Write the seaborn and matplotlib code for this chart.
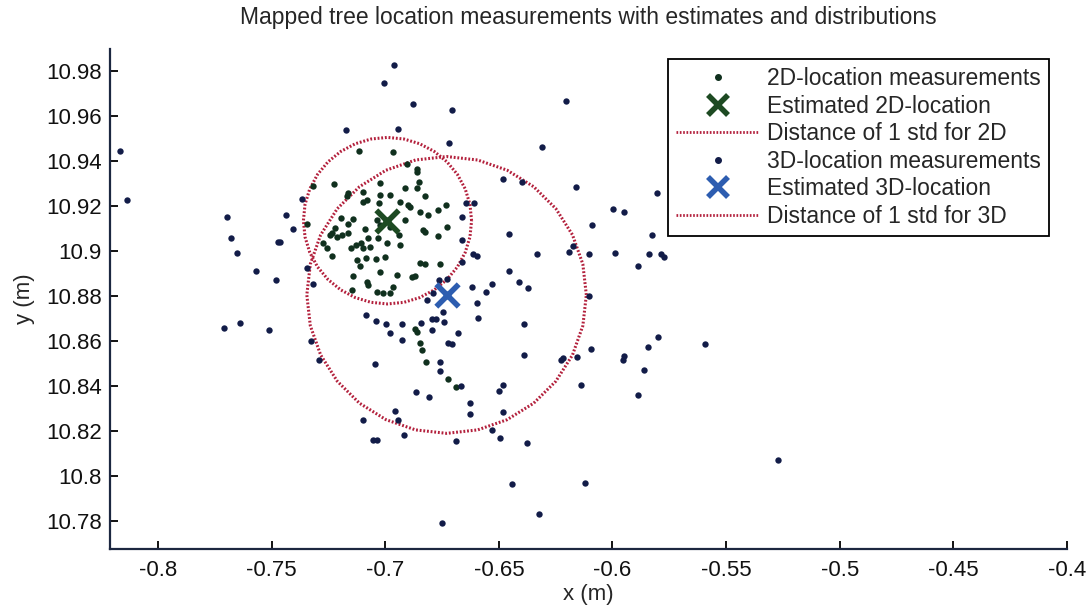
import numpy as np
import matplotlib
matplotlib.use("Agg")
import matplotlib.pyplot as plt
import seaborn as sns
from matplotlib.lines import Line2D

x_2d = [-0.7317, -0.7226, -0.7342, -0.7164, -0.7115, -0.6964, -0.6906, -0.6859, -0.6862,
        -0.7170, -0.7096, -0.7023, -0.6979, -0.7023, -0.6913, -0.6862, -0.6850, -0.6825,
        -0.7096, -0.7079, -0.7027, -0.6935, -0.6891, -0.6847, -0.6810, -0.6769, -0.6734,
        -0.7275, -0.7258, -0.7236, -0.7221, -0.7195, -0.7162, -0.7143, -0.7243, -0.7214,
        -0.7192, -0.7162, -0.7089, -0.7038, -0.7023, -0.6979, -0.6913, -0.6898, -0.6832,
        -0.6825, -0.6766, -0.6730,
        -0.7151, -0.7129, -0.7107, -0.7074, -0.7067, -0.7096, -0.7033, -0.6994, -0.6935, -0.6938,
        -0.7234, -0.7126, -0.7085, -0.7042, -0.7001, -0.7111, -0.6847, -0.6825, -0.6759,
        -0.7140, -0.7023, -0.6950, -0.6884, -0.6869, -0.7082, -0.7074, -0.6964, -0.7038,
        -0.7008, -0.6979, -0.7148,
        -0.6869, -0.6862, -0.6847, -0.6840, -0.6821, -0.6722, -0.6689]
y_2d = [10.9290, 10.9296, 10.9120, 10.9260, 10.9444, 10.9441, 10.9389, 10.9363, 10.9353,
        10.9244, 10.9264, 10.9301, 10.9249, 10.9249, 10.9278, 10.9278, 10.9308, 10.9244,
        10.9219, 10.9227, 10.9212, 10.9219, 10.9194, 10.9175, 10.9160, 10.9182, 10.9204,
        10.9037, 10.9012, 10.9079, 10.9101, 10.9145, 10.9120, 10.9141, 10.9071, 10.9064,
        10.9071, 10.9079, 10.9096, 10.9138, 10.9116, 10.9108, 10.9138, 10.9204, 10.9093,
        10.9086, 10.9067, 10.9105,
        10.9015, 10.9027, 10.9034, 10.9056, 10.9019, 10.9012, 10.9056, 10.9037, 10.9027, 10.9071,
        10.8978, 10.8960, 10.8967, 10.8963, 10.8975, 10.8933, 10.8948, 10.8942, 10.8941,
        10.8889, 10.8908, 10.8893, 10.8886, 10.8889, 10.8864, 10.8849, 10.8841, 10.8819,
        10.8812, 10.8812, 10.8827,
        10.8652, 10.8641, 10.8590, 10.8560, 10.8508, 10.8430, 10.8397]

x_3d = [-0.8167, -0.8138, -0.7174, -0.7368, -0.7696, -0.7679, -0.7438, -0.7405,
        -0.6942, -0.6718, -0.6661, -0.6645, -0.6608, -0.6661, -0.6664, -0.6615, -0.6598,
        -0.7346, -0.7316, -0.6818, -0.6788, -0.6762, -0.6730, -0.6620, -0.6598, -0.7463,
        -0.6532, -0.6557, -0.6411, -0.6370, -0.6593, -0.6389, -0.6389, -0.6747, -0.6740,
        -0.6681, -0.6793, -0.6778, -0.6844, -0.6796, -0.6928, -0.6928, -0.6979, -0.6997,
        -0.7041, -0.7086, -0.6725, -0.6708, -0.6759, -0.6759, -0.6668,
        -0.7328, -0.7290, -0.7047, -0.6865, -0.6807, -0.6627, -0.6627, -0.6498, -0.6480,
        -0.6480, -0.6532, -0.6495, -0.6375, -0.6689, -0.6957, -0.6945, -0.7096, -0.7053,
        -0.7038, -0.6918, -0.6441, -0.6323, -0.6752,
        -0.6206, -0.6312, -0.6483, -0.6398, -0.6159, -0.5803, -0.5996, -0.5949, -0.6092,
        -0.6454, -0.5828, -0.6175, -0.6191, -0.6334, -0.6105, -0.5988, -0.5839, -0.5788,
        -0.5774, -0.5889, -0.6454, -0.6102, -0.5798, -0.5593, -0.5845, -0.6093, -0.6155,
        -0.6226, -0.6219, -0.5949, -0.5955, -0.5860, -0.6140, -0.5889,
        -0.6962, -0.7006, -0.6878, -0.6706,
        -0.7710, -0.7640, -0.7510, -0.7650, -0.7570, -0.7480, -0.7470,
        -0.5270, -0.6120]
y_3d = [10.9444, 10.9227, 10.9540, 10.9230, 10.9150, 10.9060, 10.9160, 10.9100,
        10.9541, 10.9481, 10.9153, 10.9212, 10.9215, 10.9049, 10.8953, 10.8987, 10.8979,
        10.8923, 10.8852, 10.8782, 10.8815, 10.8871, 10.8874, 10.8841, 10.8767, 10.9041,
        10.8853, 10.8816, 10.8861, 10.8838, 10.8704, 10.8676, 10.8538, 10.8730, 10.8686,
        10.8638, 10.8696, 10.8698, 10.8682, 10.8649, 10.8604, 10.8676, 10.8638, 10.8676,
        10.8690, 10.8716, 10.8593, 10.8585, 10.8508, 10.8467, 10.8400,
        10.8600, 10.8516, 10.8496, 10.8375, 10.8353, 10.8323, 10.8278, 10.8378, 10.8405,
        10.8283, 10.8204, 10.8170, 10.8148, 10.8155, 10.8289, 10.8249, 10.8249, 10.8160,
        10.8160, 10.8181, 10.7965, 10.7830, 10.7790,
        10.9667, 10.9464, 10.9320, 10.9305, 10.9283, 10.9259, 10.9185, 10.9172, 10.9118,
        10.9078, 10.9072, 10.9024, 10.8997, 10.8987, 10.8987, 10.8991, 10.8989, 10.8985,
        10.8975, 10.8935, 10.8911, 10.8801, 10.8619, 10.8585, 10.8572, 10.8567, 10.8530,
        10.8516, 10.8523, 10.8533, 10.8516, 10.8471, 10.8404, 10.8360,
        10.9827, 10.9747, 10.9653, 10.9627,
        10.8660, 10.8680, 10.8650, 10.8990, 10.8910, 10.8870, 10.9040,
        10.8070, 10.7970]

# estimates and 1-std radii
est_2d = (-0.6990, 10.9135)
est_3d = (-0.6730, 10.8805)
std_2d = 0.0370
std_3d = 0.0615

xticks = [-0.8, -0.75, -0.7, -0.65, -0.6, -0.55, -0.5, -0.45, -0.4]
xticklabels = ["-0.8", "-0.75", "-0.7", "-0.65", "-0.6", "-0.55", "-0.5", "-0.45", "-0.4"]
yticks = [10.78, 10.8, 10.82, 10.84, 10.86, 10.88, 10.9, 10.92, 10.94, 10.96, 10.98]
yticklabels = ["10.78", "10.8", "10.82", "10.84", "10.86", "10.88", "10.9", "10.92",
               "10.94", "10.96", "10.98"]

c_dot2d = "#10301e"
c_dot3d = "#121c48"
c_x2d = "#1d4a22"
c_x3d = "#2d5db0"
c_circ = "#b3203c"
c_axis = "#1c2740"

sns.set_theme(style="white")
plt.rcParams["font.family"] = ["Liberation Sans", "DejaVu Sans"]

fig = plt.figure(figsize=(10.87, 6.12), dpi=100)
ax = fig.add_axes([0.1012, 0.1029, 0.8804, 0.8171])

sns.scatterplot(x=x_2d, y=y_2d, ax=ax, color=c_dot2d, s=21, linewidth=0, zorder=3)
sns.scatterplot(x=x_3d, y=y_3d, ax=ax, color=c_dot3d, s=21, linewidth=0, zorder=3)

ang = np.linspace(0, 2 * np.pi, 33)
ax.plot(est_2d[0] + std_2d * np.cos(ang), est_2d[1] + std_2d * np.sin(ang),
        color=c_circ, lw=2.2, ls=(0, (0.6, 0.6)), zorder=2)
ang = np.linspace(0, 2 * np.pi, 29)
ax.plot(est_3d[0] + std_3d * np.cos(ang), est_3d[1] + std_3d * np.sin(ang),
        color=c_circ, lw=2.2, ls=(0, (0.6, 0.6)), zorder=2)

ax.scatter([est_2d[0]], [est_2d[1]], marker="x", s=260, linewidths=4, color=c_x2d, zorder=4)
ax.scatter([est_3d[0]], [est_3d[1]], marker="x", s=260, linewidths=4, color=c_x3d, zorder=4)

ax.set_xlim(-0.8211, -0.4)
ax.set_ylim(10.7676, 10.9898)
ax.set_xticks(xticks)
ax.set_xticklabels(xticklabels)
ax.set_yticks(yticks)
ax.set_yticklabels(yticklabels)
ax.tick_params(direction="in", length=6, width=1.3, color="black", labelsize=16,
               labelcolor="#111111", bottom=True, left=True)
ax.tick_params(axis="x", pad=8)
ax.tick_params(axis="y", pad=6)
for s in ["top", "right"]:
    ax.spines[s].set_visible(False)
for s in ["left", "bottom"]:
    ax.spines[s].set_color(c_axis)
    ax.spines[s].set_linewidth(1.6)

ax.set_xlabel("x (m)", fontsize=16, labelpad=2)
ax.set_ylabel("y (m)", fontsize=16, labelpad=8)
ax.set_title("Mapped tree location measurements with estimates and distributions",
             fontsize=16.5, pad=18)

handles = [
    Line2D([], [], ls="none", marker=".", color=c_dot2d, markersize=8),
    Line2D([], [], ls="none", marker="x", color=c_x2d, markersize=14, mew=4),
    Line2D([], [], color=c_circ, lw=2, ls=(0, (0.6, 0.6))),
    Line2D([], [], ls="none", marker=".", color=c_dot3d, markersize=8),
    Line2D([], [], ls="none", marker="x", color=c_x3d, markersize=14, mew=4),
    Line2D([], [], color=c_circ, lw=2, ls=(0, (0.6, 0.6))),
]
labels = ["2D-location measurements", "Estimated 2D-location", "Distance of 1 std for 2D",
          "3D-location measurements", "Estimated 3D-location", "Distance of 1 std for 3D"]
leg = ax.legend(handles, labels, loc="upper right", bbox_to_anchor=(0.981, 0.98),
                borderaxespad=0, fontsize=16.5, frameon=True, fancybox=False,
                edgecolor="black", handlelength=3.6, handletextpad=0.35,
                labelspacing=0.2, borderpad=0.35)
leg.get_frame().set_linewidth(1.3)
leg.get_frame().set_facecolor("white")
leg.get_frame().set_alpha(1)

fig.savefig("out.png", dpi=100, facecolor="white")
